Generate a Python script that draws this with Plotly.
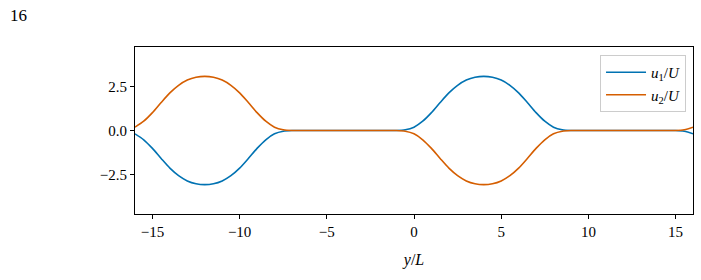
import plotly.graph_objects as go

# y/L sample positions (step 0.5)
y_pos = [
    -16.0, -15.5, -15.0, -14.5, -14.0, -13.5, -13.0, -12.5, -12.0, -11.5,
    -11.0, -10.5, -10.0, -9.5, -9.0, -8.5, -8.0, -7.5, -7.0, -6.5,
    -6.0, -5.5, -5.0, -4.5, -4.0, -3.5, -3.0, -2.5, -2.0, -1.5,
    -1.0, -0.5, 0.0, 0.5, 1.0, 1.5, 2.0, 2.5, 3.0, 3.5,
    4.0, 4.5, 5.0, 5.5, 6.0, 6.5, 7.0, 7.5, 8.0, 8.5,
    9.0, 9.5, 10.0, 10.5, 11.0, 11.5, 12.0, 12.5, 13.0, 13.5,
    14.0, 14.5, 15.0, 15.5, 16.0,
]

u1 = [
    -0.19, -0.53, -1.02, -1.60, -2.15, -2.58, -2.88, -3.04, -3.09, -3.04,
    -2.88, -2.58, -2.15, -1.60, -1.02, -0.53, -0.19, -0.04, 0.0, 0.0,
    0.0, 0.0, 0.0, 0.0, 0.0, 0.0, 0.0, 0.0, 0.0, 0.0,
    0.0, 0.04, 0.19, 0.53, 1.02, 1.60, 2.15, 2.58, 2.88, 3.04,
    3.09, 3.04, 2.88, 2.58, 2.15, 1.60, 1.02, 0.53, 0.19, 0.04,
    0.0, 0.0, 0.0, 0.0, 0.0, 0.0, 0.0, 0.0, 0.0, 0.0,
    0.0, 0.0, 0.0, -0.04, -0.19,
]

u2 = [
    0.19, 0.53, 1.02, 1.60, 2.15, 2.58, 2.88, 3.04, 3.09, 3.04,
    2.88, 2.58, 2.15, 1.60, 1.02, 0.53, 0.19, 0.04, 0.0, 0.0,
    0.0, 0.0, 0.0, 0.0, 0.0, 0.0, 0.0, 0.0, 0.0, 0.0,
    0.0, -0.04, -0.19, -0.53, -1.02, -1.60, -2.15, -2.58, -2.88, -3.04,
    -3.09, -3.04, -2.88, -2.58, -2.15, -1.60, -1.02, -0.53, -0.19, -0.04,
    0.0, 0.0, 0.0, 0.0, 0.0, 0.0, 0.0, 0.0, 0.0, 0.0,
    0.0, 0.0, 0.0, 0.04, 0.19,
]

x_ticks = [-15, -10, -5, 0, 5, 10, 15]
y_ticks = [-2.5, 0.0, 2.5]

serif = "Liberation Serif, Times New Roman, serif"

fig = go.Figure()
fig.add_trace(go.Scatter(x=y_pos, y=u1, mode="lines",
                         name="<i>u</i><sub>1</sub>/<i>U</i>",
                         line=dict(color="#0072b2", width=1.6, shape="spline", smoothing=0.8)))
fig.add_trace(go.Scatter(x=y_pos, y=u2, mode="lines",
                         name="<i>u</i><sub>2</sub>/<i>U</i>",
                         line=dict(color="#d55e00", width=1.6, shape="spline", smoothing=0.8)))

axis_common = dict(showline=True, linecolor="black", linewidth=1.2, mirror=True,
                   ticks="outside", ticklen=4, tickwidth=1, tickcolor="black",
                   showgrid=False, zeroline=False,
                   tickfont=dict(family=serif, size=15, color="black"))

fig.update_xaxes(range=[-16, 16], tickvals=x_ticks, **axis_common,
                 title=dict(text="<i>y</i>/<i>L</i>", font=dict(family=serif, size=16, color="black"),
                            standoff=14))
fig.update_yaxes(range=[-4.77, 4.77], tickvals=y_ticks, tickformat=".1f", **axis_common)

fig.update_layout(
    width=701, height=280,
    margin=dict(l=135, r=8, t=47, b=66),
    plot_bgcolor="white", paper_bgcolor="white",
    showlegend=True,
    legend=dict(x=0.9875, y=0.952, xanchor="right", yanchor="top",
                bgcolor="rgba(255,255,255,0.8)", bordercolor="#cccccc", borderwidth=1,
                font=dict(family=serif, size=15, color="black"),
                itemwidth=40, tracegroupgap=0),
    annotations=[dict(text="16", xref="paper", yref="paper",
                      x=-135/558 + 8/558, y=1 + (47 - 15)/167,
                      xanchor="left", yanchor="middle",
                      showarrow=False, font=dict(family=serif, size=17, color="black"))],
)

fig.write_html("out.html")
